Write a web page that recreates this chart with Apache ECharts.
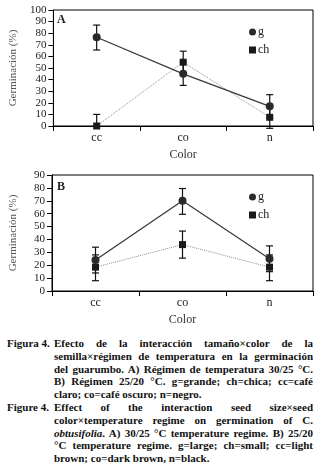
<!DOCTYPE html>
<html>
<head>
<meta charset="utf-8">
<script src="https://cdn.jsdelivr.net/npm/echarts@6/dist/echarts.min.js"></script>
<style>
  html, body { margin: 0; padding: 0; background: #fff; }
  #chart { position: absolute; left: 0; top: 0; width: 321px; height: 330px; }
  #caption {
    position: absolute; left: 7px; top: 337px; width: 306px;
    font-family: "Liberation Serif", "DejaVu Serif", serif;
    font-weight: bold; font-size: 11px; line-height: 12.8px; color: #111;
  }
  .para { position: relative; padding-left: 47px; }
  .para .lab { position: absolute; left: 0; top: 0; }
  .ln { text-align: justify; text-align-last: justify; white-space: nowrap; }
  .ln.last { text-align-last: left; }
</style>
</head>
<body>
<div id="chart"></div>
<div id="caption">
  <div class="para"><span class="lab">Figura 4.</span>
    <div class="ln">Efecto de la interacción tamaño×color de la</div>
    <div class="ln">semilla×régimen de temperatura en la germinación</div>
    <div class="ln">del guarumbo. A) Régimen de temperatura 30/25 °C.</div>
    <div class="ln">B) Régimen 25/20 °C. g=grande; ch=chica; cc=café</div>
    <div class="ln last">claro; co=café oscuro; n=negro.</div>
  </div>
  <div class="para"><span class="lab">Figure 4.</span>
    <div class="ln">Effect of the interaction seed size×seed</div>
    <div class="ln">color×temperature regime on germination of C.</div>
    <div class="ln"><i>obtusifolia</i>. A) 30/25 °C temperature regime. B) 25/20</div>
    <div class="ln">°C temperature regime.  g=large; ch=small; cc=light</div>
    <div class="ln last">brown; co=dark brown, n=black.</div>
  </div>
</div>
<script>
// categories (seed colour)
const colors = ['cc', 'co', 'n']

// panel A: 30/25 °C
const gA = [76.5, 45, 17]
const gA_lo = [65.5, 35, 7]
const gA_hi = [87, 55, 27]
const chA = [0, 55, 7.5]
const chA_lo = [0, 45.5, -2]
const chA_hi = [10, 64.5, 17.5]

// panel B: 25/20 °C
const gB = [24, 70, 25]
const gB_lo = [14, 59.5, 15]
const gB_hi = [34, 79.5, 35]
const chB = [18.5, 36, 18.5]
const chB_lo = [8, 25.5, 8]
const chB_hi = [28, 46.5, 28]

const serif = '"Liberation Serif", "DejaVu Serif", serif'

const chart = echarts.init(document.getElementById('chart'))

const makeX = (gridIndex) => ({
  type: 'category',
  gridIndex,
  data: colors,
  name: 'Color',
  nameLocation: 'middle',
  nameGap: 23,
  nameTextStyle: { fontFamily: serif, fontSize: 12, color: '#333' },
  axisLine: { lineStyle: { color: '#000', width: 1 } },
  axisTick: { show: true, length: 5, lineStyle: { color: '#000' } },
  axisLabel: { fontFamily: serif, fontSize: 12, color: '#222', margin: 6 },
  splitLine: { show: false }
})

const makeY = (gridIndex, max) => ({
  type: 'value',
  gridIndex,
  min: 0,
  max,
  interval: 10,
  name: 'Germinación (%)',
  nameLocation: 'middle',
  nameGap: 33,
  nameTextStyle: { fontFamily: serif, fontSize: 11, color: '#555' },
  axisLine: { show: true, lineStyle: { color: '#000', width: 1 } },
  axisTick: { show: true, length: 5, lineStyle: { color: '#000' } },
  axisLabel: {
    fontFamily: serif, fontSize: 11, color: '#222', margin: 7,
    interval: 0, showMinLabel: true, showMaxLabel: true, hideOverlap: false
  },
  splitLine: { show: false }
})

const errSeries = (idx, lo, hi) => ({
  type: 'custom',
  xAxisIndex: idx,
  yAxisIndex: idx,
  silent: true,
  z: 1,
  data: colors.map((c, i) => [i, lo[i], hi[i]]),
  renderItem: (params, api) => {
    const a = api.coord([api.value(0), api.value(1)])
    const b = api.coord([api.value(0), api.value(2)])
    const w = 3.5
    const style = { stroke: '#111', lineWidth: 1.2 }
    return {
      type: 'group',
      children: [
        { type: 'line', shape: { x1: a[0], y1: a[1], x2: b[0], y2: b[1] }, style },
        { type: 'line', shape: { x1: a[0] - w, y1: a[1], x2: a[0] + w, y2: a[1] }, style },
        { type: 'line', shape: { x1: b[0] - w, y1: b[1], x2: b[0] + w, y2: b[1] }, style }
      ]
    }
  }
})

const gSeries = (idx, data) => ({
  name: 'g',
  type: 'line',
  xAxisIndex: idx,
  yAxisIndex: idx,
  data,
  z: 3,
  symbol: 'circle',
  symbolSize: 8,
  itemStyle: { color: '#2a2a2a' },
  lineStyle: { color: '#3a3a3a', width: 1.3 }
})

const chSeries = (idx, data) => ({
  name: 'ch',
  type: 'line',
  xAxisIndex: idx,
  yAxisIndex: idx,
  data,
  z: 2,
  symbol: 'rect',
  symbolSize: 7,
  itemStyle: { color: '#1a1a1a' },
  lineStyle: { color: '#8f8f8f', width: 1, type: 'dotted' }
})

const makeLegend = (top) => ({
  orient: 'vertical',
  left: 244,
  top,
  itemWidth: 7,
  itemHeight: 7,
  itemGap: 6,
  textStyle: { fontFamily: serif, fontSize: 12, color: '#222', padding: [0, 0, 0, -3] },
  data: [
    { name: 'g', icon: 'circle', itemStyle: { color: '#2a2a2a' } },
    { name: 'ch', icon: 'rect', itemStyle: { color: '#1a1a1a' } }
  ],
  selectedMode: false
})

const option = {
  animation: false,
  grid: [
    { left: 49, right: 8, top: 10, height: 116, show: true, borderColor: '#000', borderWidth: 1 },
    { left: 49, right: 8, top: 175, height: 116, show: true, borderColor: '#000', borderWidth: 1 }
  ],
  xAxis: [makeX(0), makeX(1)],
  yAxis: [makeY(0, 100), makeY(1, 90)],
  legend: [makeLegend(21), makeLegend(186)],
  graphic: [
    { type: 'text', left: 57, top: 14, style: { text: 'A', font: 'bold 12px ' + serif, fill: '#222' } },
    { type: 'text', left: 57, top: 181, style: { text: 'B', font: 'bold 12px ' + serif, fill: '#222' } }
  ],
  series: [
    errSeries(0, gA_lo, gA_hi),
    errSeries(0, chA_lo, chA_hi),
    gSeries(0, gA),
    chSeries(0, chA),
    errSeries(1, gB_lo, gB_hi),
    errSeries(1, chB_lo, chB_hi),
    gSeries(1, gB),
    chSeries(1, chB)
  ]
}

chart.setOption(option)
</script>
</body>
</html>
